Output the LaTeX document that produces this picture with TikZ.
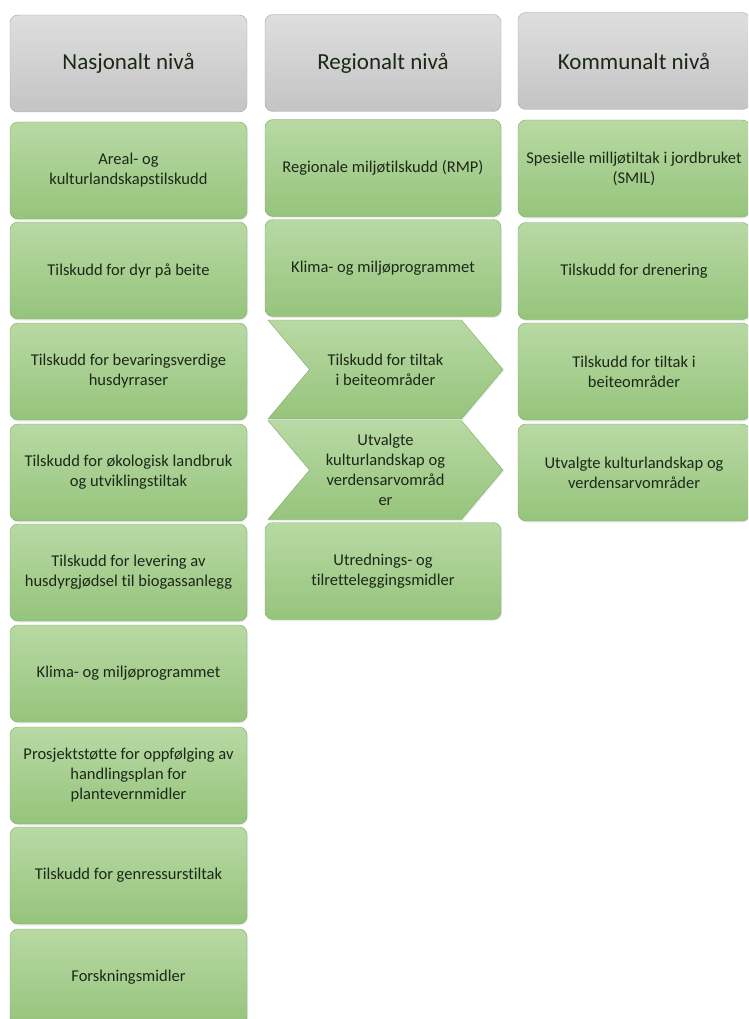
\documentclass[tikz,border=0pt]{standalone}
\usepackage{fontspec}
\setmainfont{Carlito}[Ligatures=NoCommon]
\usetikzlibrary{shapes.symbols,shadows}
\definecolor{graaopp}{RGB}{222,222,222}
\definecolor{graaned}{RGB}{196,196,196}
\definecolor{graakant}{RGB}{165,165,165}
\definecolor{gronnopp}{RGB}{184,217,164}
\definecolor{gronnned}{RGB}{150,196,124}
\definecolor{gronnkant}{RGB}{125,172,100}
\definecolor{tekst}{RGB}{28,40,24}

\begin{document}
\begin{tikzpicture}[x=1pt,y=-1pt,
  nivaa/.style={draw=graakant, rounded corners=8pt, top color=graaopp, bottom color=graaned,
    minimum width=237pt, minimum height=97pt, inner sep=2pt, text=tekst,
    font=\fontsize{23}{27}\selectfont},
  tiltak/.style={draw=gronnkant, rounded corners=8pt, top color=gronnopp, bottom color=gronnned,
    minimum width=237pt, minimum height=97pt, inner sep=2pt, align=center, text=tekst,
    drop shadow={opacity=0.15, shadow xshift=1pt, shadow yshift=-1.5pt},
    font=\fontsize{16.5}{20}\selectfont},
  pil/.style={tiltak, shape=signal, signal from=west, signal to=east,
    signal pointer angle=100, rounded corners=0pt, minimum width=235pt, minimum height=99pt}]
\useasboundingbox (0,0) rectangle (748,1019);
\clip (0,0) rectangle (748,1019);

% nasjonalt nivaa
\node[nivaa] (nasjonalt) at (128.5,63.5) {Nasjonalt nivå};
\node[tiltak] (areal) at (128.5,170.5) {Areal- og\\kulturlandskapstilskudd};
\node[tiltak] (beite) at (128.5,270.5) {Tilskudd for dyr på beite};
\node[tiltak] (husdyr) at (128.5,371.5) {Tilskudd for bevaringsverdige\\husdyrraser};
\node[tiltak] (okologisk) at (128.5,472.5) {Tilskudd for økologisk landbruk\\og utviklingstiltak};
\node[tiltak] (biogass) at (128.5,572.5) {Tilskudd for levering av\\husdyrgjødsel til biogassanlegg};
\node[tiltak] (klimaN) at (128.5,673.5) {Klima- og miljøprogrammet};
\node[tiltak] (plantevern) at (128.5,775.5) {Prosjektstøtte for oppfølging av\\handlingsplan for\\plantevernmidler};
\node[tiltak] (genressurs) at (128.5,875.5) {Tilskudd for genressurstiltak};
\node[tiltak] (forskning) at (128.5,977.5) {Forskningsmidler};

% regionalt nivaa
\node[nivaa, minimum width=236pt] (regionalt) at (383,63) {Regionalt nivå};
\node[tiltak, minimum width=236pt] (rmp) at (383,168) {Regionale miljøtilskudd (RMP)};
\node[tiltak, minimum width=236pt] (klimaR) at (383,268) {Klima- og miljøprogrammet};
\node[pil] (beiteR) at (385.5,369.5) {Tilskudd for tiltak\\i beiteområder};
\node[pil] (utvalgtR) at (385.5,470) {Utvalgte\\kulturlandskap og\\verdensarvområd\\er};
\node[tiltak, minimum width=236pt] (utredning) at (383,571) {Utrednings- og\\tilretteleggingsmidler};

% kommunalt nivaa
\node[nivaa, minimum width=232pt] (kommunalt) at (634,61) {Kommunalt nivå};
\node[tiltak, minimum width=232pt] (smil) at (634,168.5) {Spesielle milljøtiltak i jordbruket\\(SMIL)};
\node[tiltak, minimum width=232pt] (drenering) at (634,271) {Tilskudd for drenering};
\node[tiltak, minimum width=232pt] (beiteK) at (634,371.5) {Tilskudd for tiltak i\\beiteområder};
\node[tiltak, minimum width=232pt] (utvalgtK) at (634,472.5) {Utvalgte kulturlandskap og\\verdensarvområder};
\end{tikzpicture}
\end{document}
